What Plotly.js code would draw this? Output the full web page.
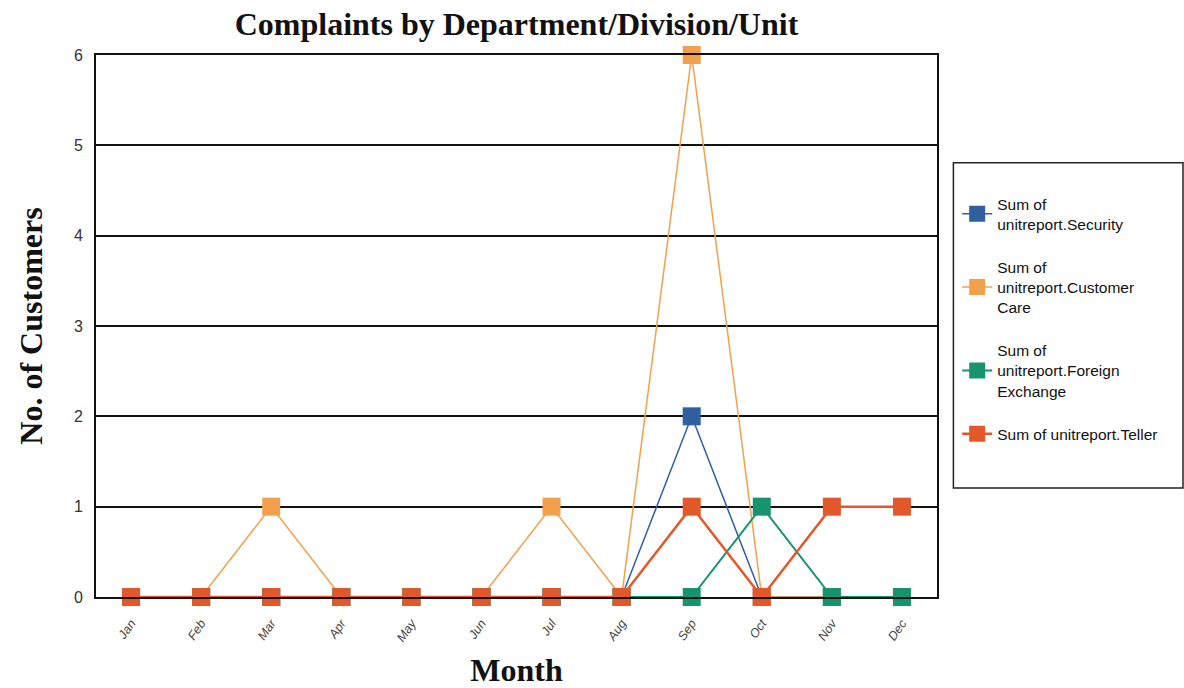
<!DOCTYPE html>
<html>
<head>
<meta charset="utf-8">
<script src="https://cdn.plot.ly/plotly-3.0.1.min.js"></script>
<style>html,body{margin:0;padding:0;background:#fff;}#chart{width:1184px;height:688px;}</style>
</head>
<body>
<div id="chart"></div>
<script>
const months = ["Jan","Feb","Mar","Apr","May","Jun","Jul","Aug","Sep","Oct","Nov","Dec"];
const security = [0,0,0,0,0,0,0,0,2,0,0,0];
const customerCare = [0,0,1,0,0,0,1,0,6,0,0,0];
const foreignExchange = [0,0,0,0,0,0,0,0,0,1,0,0];
const teller = [0,0,0,0,0,0,0,0,1,0,1,1];
const seriesNames = ["Sum of<br>unitreport.Security","Sum of<br>unitreport.Customer<br>Care","Sum of<br>unitreport.Foreign<br>Exchange","Sum of unitreport.Teller"];
const yTicks = [0,1,2,3,4,5,6];

const colors = ["#2f5f9f","#f3a04c","#17936f","#e2582a"];
const widths = [1.5,1.5,2,2.5];
const vals = [security, customerCare, foreignExchange, teller];

const traces = vals.map((v,i)=>({
  type:"scatter", mode:"lines+markers", x:months, y:v, name:seriesNames[i],
  legendgroup:"g"+i,
  line:{color:colors[i], width:widths[i]},
  marker:{symbol:"square", size:18, color:colors[i]},
  cliponaxis:false
}));

const serif = "Liberation Serif, Times New Roman, serif";
const layout = {
  width:1184, height:688,
  margin:{l:96, r:247, t:55, b:91},
  paper_bgcolor:"#fff", plot_bgcolor:"#fff",
  showlegend:true,
  title:{text:"<b>Complaints by Department/Division/Unit</b>", font:{family:serif, size:32, color:"#111"}, x:0.5, xref:"paper", xanchor:"center", y:0.965, yref:"container", yanchor:"middle"},
  xaxis:{
    type:"category", range:[-0.5,11.5], tickangle:-55,
    tickfont:{family:"Liberation Sans, Arial, sans-serif", size:12.5, color:"#444", style:"italic"},
    showgrid:false, zeroline:false, showline:true, linecolor:"#111", linewidth:2, mirror:true,
    ticks:"", ticklen:0, ticklabelstandoff:12,
    title:{text:"<b>Month</b>", font:{family:serif, size:32, color:"#111"}, standoff:26}
  },
  yaxis:{
    range:[0,6], tickvals:yTicks, ticktext:yTicks.map(String),
    tickfont:{family:"Liberation Sans, Arial, sans-serif", size:16, color:"#333"},
    showgrid:true, gridcolor:"#111", gridwidth:2, zeroline:false,
    showline:true, linecolor:"#111", linewidth:2, mirror:true, ticks:"", ticklabelstandoff:8,
    title:{text:"<b>No. of Customers</b>", font:{family:serif, size:32, color:"#111"}, standoff:22}
  },
  legend:{
    x:1.024, xanchor:"left", y:0.7565, yanchor:"top",
    font:{family:"Liberation Sans, Arial, sans-serif", size:15.5, color:"#111"},
    bgcolor:"rgba(0,0,0,0)", borderwidth:0, tracegroupgap:20, traceorder:"grouped", itemwidth:30
  },
  shapes:[{type:"rect", xref:"paper", yref:"paper", x0:1.0195, x1:1.2925, y0:0.201, y1:0.801, line:{color:"#222", width:1.5}}]
};

Plotly.newPlot("chart", traces, layout, {displayModeBar:false, staticPlot:true});
</script>
</body>
</html>
